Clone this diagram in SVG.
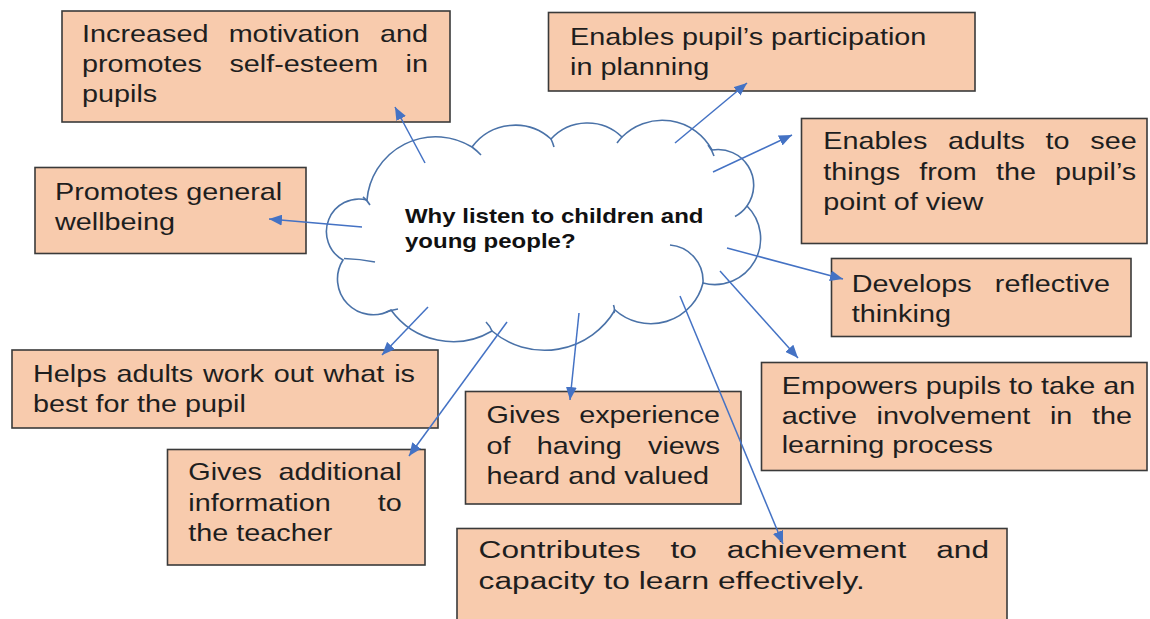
<svg xmlns="http://www.w3.org/2000/svg" width="1150" height="619" viewBox="0 0 1150 619">
<defs>
<style>
.box{fill:#F8CBAD;stroke:#3a3a3a;stroke-width:1.6}
.t{font-family:"Liberation Sans",Arial,sans-serif;font-size:24px;fill:#1e1e1e}
.tb{font-family:"Liberation Sans",Arial,sans-serif;font-size:20px;font-weight:bold;fill:#111}
.cloud{fill:#fff;stroke:#4A72A8;stroke-width:1.6}
.hint{fill:none;stroke:#4A72A8;stroke-width:1.6}
.conn line{stroke:#4472C4;stroke-width:1.5;marker-end:url(#ah)}
</style>
<marker id="ah" viewBox="0 0 12 10" refX="12" refY="5" markerWidth="13" markerHeight="11" orient="auto" markerUnits="userSpaceOnUse">
<path d="M0,0 L12,5 L0,10 z" fill="#4472C4"/>
</marker>
</defs>
<rect width="1150" height="619" fill="#fff"/>

<g id="cloud">
<path class="cloud" d="M 367,200 A 69 69 0 0 1 472,147 A 53.5 53.5 0 0 1 551,139 A 49.5 49.5 0 0 1 622,137 A 56.5 56.5 0 0 1 712,150 A 35.7 35.7 0 0 1 747,206 A 45.9 45.9 0 0 1 703,283 A 53.7 53.7 0 0 1 615,310 A 81.6 81.6 0 0 1 492,331 A 76.6 76.6 0 0 1 391,310 A 35.7 35.7 0 0 1 343,260 A 32.6 32.6 0 0 1 367,200 Z"/>
<path class="hint" d="M 472,147 A 69 69 0 0 1 481,155 M 551,139 A 53.5 53.5 0 0 1 554,147 M 622,137 A 56.5 56.5 0 0 0 617,143 M 708,145 Q 712,150 714,156 M 747,206 A 35.7 35.7 0 0 1 735,216.5 M 703,283 A 36 36 0 0 0 670,245 M 613.5,305 Q 615,309 614,313 M 486,322 Q 490,326 492,331 M 386,312 Q 392,310 398,309 M 344,258.5 Q 360,259 375,262 M 363,197 Q 367,200 370,205"/>
<text class="tb" transform="scale(1.2,1)"><tspan x="337.5" y="223.3">Why listen to children and</tspan><tspan x="337.5" y="248.3">young people?</tspan></text>
</g>

<g id="n1">
<rect class="box" x="62" y="11" width="388" height="111"/>
<text class="t" transform="scale(1.2,1)"><tspan x="68.33" y="42.5">Increased</tspan> <tspan x="190.54" y="42.5">motivation</tspan> <tspan x="316.67" y="42.5">and</tspan> <tspan x="68.33" y="72.5">promotes</tspan> <tspan x="191.17" y="72.5">self-esteem</tspan> <tspan x="338" y="72.5">in</tspan> <tspan x="68.33" y="102.5">pupils</tspan></text>
</g>

<g id="n2">
<rect class="box" x="548.5" y="12.5" width="426.5" height="78.5"/>
<text class="t" transform="scale(1.2,1)"><tspan x="475" y="45">Enables pupil’s participation</tspan><tspan x="475" y="75">in planning</tspan></text>
</g>

<g id="n3">
<rect class="box" x="801.5" y="118.5" width="345.5" height="125"/>
<text class="t" transform="scale(1.2,1)"><tspan x="686.08" y="149.5">Enables</tspan> <tspan x="790.03" y="149.5">adults</tspan> <tspan x="871.31" y="149.5">to</tspan> <tspan x="908.57" y="149.5">see</tspan> <tspan x="686.08" y="180">things</tspan> <tspan x="766.03" y="180">from</tspan> <tspan x="829.95" y="180">the</tspan> <tspan x="879.23" y="180">pupil’s</tspan> <tspan x="686.08" y="210.5">point of view</tspan></text>
</g>

<g id="n4">
<rect class="box" x="35" y="167.5" width="271" height="86"/>
<text class="t" transform="scale(1.2,1)"><tspan x="45.83" y="200">Promotes general</tspan><tspan x="45.83" y="230.5">wellbeing</tspan></text>
</g>

<g id="n5">
<rect class="box" x="831.5" y="258.5" width="299.5" height="78"/>
<text class="t" transform="scale(1.2,1)"><tspan x="709.75" y="291.7">Develops</tspan> <tspan x="829" y="291.7">reflective</tspan> <tspan x="709.75" y="321.7">thinking</tspan></text>
</g>

<g id="n6">
<rect class="box" x="761.5" y="362.5" width="385.5" height="108"/>
<text class="t" transform="scale(1.2,1)"><tspan x="651.42" y="394">Empowers pupils to take an</tspan> <tspan x="651.42" y="424">active</tspan> <tspan x="730.49" y="424">involvement</tspan> <tspan x="874.92" y="424">in</tspan> <tspan x="909.98" y="424">the</tspan> <tspan x="651.42" y="453">learning process</tspan></text>
</g>

<g id="n7">
<rect class="box" x="12" y="350" width="426" height="78"/>
<text class="t" transform="scale(1.2,1)"><tspan x="27.5" y="382">Helps</tspan> <tspan x="97.03" y="382">adults</tspan> <tspan x="169.24" y="382">work</tspan> <tspan x="228.09" y="382">out</tspan> <tspan x="269.63" y="382">what</tspan> <tspan x="328.51" y="382">is</tspan> <tspan x="27.5" y="412">best for the pupil</tspan></text>
</g>

<g id="n8">
<rect class="box" x="167.5" y="449.5" width="257.5" height="115.5"/>
<text class="t" transform="scale(1.2,1)"><tspan x="156.92" y="480.5">Gives</tspan> <tspan x="232.03" y="480.5">additional</tspan> <tspan x="156.92" y="511">information</tspan> <tspan x="314.73" y="511">to</tspan> <tspan x="156.92" y="541.5">the teacher</tspan></text>
</g>

<g id="n9">
<rect class="box" x="465.5" y="391.5" width="275.5" height="112.5"/>
<text class="t" transform="scale(1.2,1)"><tspan x="405.42" y="423.5">Gives</tspan> <tspan x="482.62" y="423.5">experience</tspan> <tspan x="405.42" y="454">of</tspan> <tspan x="447.37" y="454">having</tspan> <tspan x="540" y="454">views</tspan> <tspan x="405.42" y="484.5">heard and valued</tspan></text>
</g>

<g id="n10">
<rect class="box" x="457" y="528.5" width="550" height="100"/>
<text class="t" transform="scale(1.32,1)"><tspan x="362.58" y="558">Contributes</tspan> <tspan x="507.91" y="558">to</tspan> <tspan x="550.55" y="558">achievement</tspan> <tspan x="709.22" y="558">and</tspan> <tspan x="362.58" y="589">capacity to learn effectively.</tspan></text>
</g>

<g id="connectors" class="conn">
<line x1="425" y1="163" x2="395" y2="107"/>
<line x1="675" y1="143" x2="747" y2="83"/>
<line x1="713" y1="172" x2="792" y2="135"/>
<line x1="362" y1="227" x2="269" y2="219"/>
<line x1="727" y1="248" x2="843" y2="279"/>
<line x1="720" y1="271" x2="798" y2="358"/>
<line x1="428" y1="307" x2="382" y2="355"/>
<line x1="507" y1="322" x2="409" y2="456"/>
<line x1="579" y1="313" x2="570" y2="400"/>
<line x1="680" y1="296" x2="783" y2="544"/>
</g>
</svg>
